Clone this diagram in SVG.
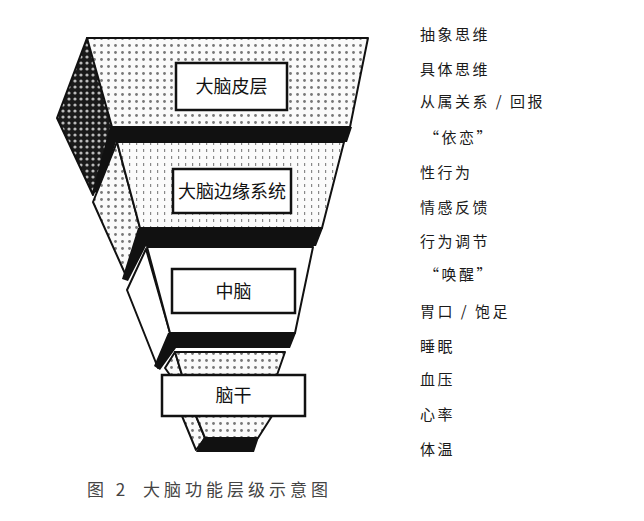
<svg xmlns="http://www.w3.org/2000/svg" width="644" height="521" viewBox="0 0 644 521">
<defs>
<pattern id="dots" width="7" height="7" patternUnits="userSpaceOnUse">
<rect width="7" height="7" fill="#fafafa"/>
<circle cx="3.5" cy="3.5" r="1.4" fill="#777"/>
</pattern>
<pattern id="dots2" width="7" height="7" patternUnits="userSpaceOnUse">
<rect width="7" height="7" fill="#fbfbfb"/>
<rect x="3" y="2" width="1.2" height="3" fill="#888"/>
</pattern>
<pattern id="dark" width="6" height="6" patternUnits="userSpaceOnUse">
<rect width="6" height="6" fill="#1a1a1a"/>
<circle cx="3" cy="3" r="1.6" fill="#bbb"/>
</pattern>
<style>
.f{stroke:#111;stroke-width:2;stroke-linejoin:round}
.k{fill:#111}
.box{fill:#fff;stroke:#111;stroke-width:2.5}
.lbl{font-family:"Noto Sans CJK SC","Noto Sans",sans-serif;font-size:18px;fill:#111;text-anchor:middle}
.r{font-family:"Noto Sans CJK SC","Noto Sans",sans-serif;font-size:15px;fill:#1a1a1a;letter-spacing:2.5px}
.cap{font-family:"Noto Sans CJK SC","Noto Sans",sans-serif;font-size:17px;fill:#444;letter-spacing:4px}
</style>
</defs>
<rect width="644" height="521" fill="#fff"/>

<g id="cortex">
<polygon class="f" points="87,38 57,118 93,195 116,130" fill="url(#dark)"/>
<polygon class="f" points="87,38 368,38 350,127 112,127" fill="url(#dots)"/>
<polygon class="k" points="110,127 352,127 347,142 116,142 99,192 92,193"/>
<rect class="box" x="176" y="63" width="111" height="47"/>
<text class="lbl" x="231.5" y="93">大脑皮层</text>
</g>

<g id="limbic">
<polygon class="f" points="117,142 93,202 127,278 140,228" fill="url(#dots)"/>
<polygon class="f" points="117,142 344,142 322,228 140,228" fill="url(#dots2)"/>
<polygon class="k" points="138,228 323,228 316,246 146,246 128,281 122,279"/>
<rect class="box" x="173" y="169" width="118" height="44"/>
<text class="lbl" x="232" y="198">大脑边缘系统</text>
</g>

<g id="midbrain">
<polygon class="f" points="146,249 127,290 158,368 170,333" fill="#fff"/>
<polygon class="f" points="147,247 313,247 295,333 170,333" fill="#fff"/>
<polygon class="k" points="168,333 296,333 290,348 176,348 160,370 154,366"/>
<rect class="box" x="172" y="269" width="123" height="44"/>
<text class="lbl" x="233.5" y="298">中脑</text>
</g>

<g id="brainstem">
<polygon class="f" points="175,352 165,368 170,375 182,375" fill="url(#dots)"/>
<polygon class="f" points="175,352 285,352 277,375 182,375" fill="url(#dots)"/>
<polygon class="f" points="182,416 196,416 205,438 196,450" fill="url(#dots)"/>
<polygon class="f" points="196,416 272,416 258,438 205,438" fill="url(#dots)"/>
<polygon class="k" points="204,437 259,437 254,452 196,452"/>
<rect class="box" x="162" y="375" width="143" height="41"/>
<text class="lbl" x="233.5" y="402">脑干</text>
</g>

<g id="functions">
<text class="r" x="420" y="40">抽象思维</text>
<text class="r" x="420" y="75">具体思维</text>
<text class="r" x="420" y="107">从属关系 / 回报</text>
<text class="r" x="424" y="143">“依恋”</text>
<text class="r" x="420" y="178">性行为</text>
<text class="r" x="420" y="213">情感反馈</text>
<text class="r" x="420" y="247">行为调节</text>
<text class="r" x="424" y="280">“唤醒”</text>
<text class="r" x="420" y="317">胃口 / 饱足</text>
<text class="r" x="420" y="352">睡眠</text>
<text class="r" x="420" y="385">血压</text>
<text class="r" x="420" y="420">心率</text>
<text class="r" x="420" y="455">体温</text>
</g>

<g id="caption">
<text class="cap" x="87" y="496">图 2</text>
<text class="cap" x="143" y="496">大脑功能层级示意图</text>
</g>
</svg>
